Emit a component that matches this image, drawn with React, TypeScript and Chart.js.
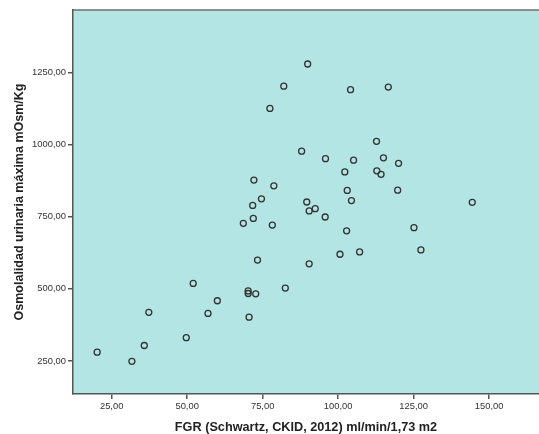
import React, { useEffect, useRef } from "react";
import { Chart, registerables } from "chart.js";

Chart.register(...registerables);

const FGR: number[] = [
  89.9, 82.0, 104.1, 116.6, 77.4, 112.7, 87.9, 95.8, 105.1, 115.0,
  120.0, 102.2, 112.8, 114.2, 72.1, 78.7, 103.0, 119.7, 74.6, 71.7,
  89.6, 90.4, 92.4, 104.4, 144.4, 95.7, 68.6, 71.9, 78.2, 102.8,
  125.1, 73.3, 90.4, 100.6, 107.1, 127.4, 82.5, 52.0, 70.2, 70.2,
  72.7, 60.0, 37.3, 56.9, 70.5, 49.7, 35.8, 20.2, 31.7,
];
const OSMOL: number[] = [
  1279, 1202, 1190, 1199, 1125, 1011, 977, 951, 946, 954,
  935, 905, 909, 897, 877, 857, 841, 842, 812, 789,
  801, 770, 778, 806, 800, 749, 727, 744, 721, 701,
  712, 600, 587, 620, 628, 635, 503, 519, 493, 484,
  483, 459, 419, 415, 402, 331, 304, 281, 249,
];
const X_TICKS: number[] = [25, 50, 75, 100, 125, 150];
const Y_TICKS: number[] = [250, 500, 750, 1000, 1250];
const X_TITLE = "FGR (Schwartz, CKID, 2012) ml/min/1,73 m2";
const Y_TITLE = "Osmolalidad urinaria máxima mOsm/Kg";

const fmt = (v: number) => v.toFixed(2).replace(".", ",");
const FONT = "'Liberation Sans', Arial, sans-serif";

const bgPlugin = {
  id: "plotBg",
  beforeDraw(chart: any) {
    const { ctx, chartArea } = chart;
    ctx.save();
    ctx.fillStyle = "#b3e5e5";
    ctx.fillRect(chartArea.left, chartArea.top, chartArea.right - chartArea.left, chartArea.bottom - chartArea.top);
    ctx.restore();
  },
  afterDraw(chart: any) {
    const { ctx, chartArea } = chart;
    ctx.save();
    ctx.strokeStyle = "#6e6e6e";
    ctx.lineWidth = 1.5;
    ctx.beginPath();
    ctx.moveTo(chartArea.left, chartArea.top);
    ctx.lineTo(chartArea.right, chartArea.top);
    ctx.stroke();
    ctx.restore();
  },
};

export default function App() {
  const ref = useRef<HTMLCanvasElement | null>(null);
  useEffect(() => {
    if (!ref.current) return;
    const chart = new Chart(ref.current, {
      type: "scatter",
      data: {
        datasets: [
          {
            data: FGR.map((x, i) => ({ x, y: OSMOL[i] })),
            pointStyle: "circle",
            pointRadius: 3,
            pointBorderWidth: 1.3,
            pointBorderColor: "#333",
            pointBackgroundColor: "rgba(0,0,0,0)",
          },
        ],
      },
      options: {
        animation: false,
        responsive: false,
        layout: { autoPadding: false, padding: { top: 10, right: 0, left: 0, bottom: 0 } },
        plugins: { legend: { display: false }, tooltip: { enabled: false } },
        scales: {
          x: {
            type: "linear",
            min: 12.2,
            max: 166.5,
            afterBuildTicks: (s: any) => {
              s.ticks = X_TICKS.map((v) => ({ value: v }));
            },
            afterFit: (s: any) => {
              s.height = 40;
            },
            grid: { display: true, drawOnChartArea: false, drawTicks: true, tickLength: 5, color: "#555", lineWidth: 1.5 },
            border: { display: true, color: "#555", width: 1.5 },
            ticks: {
              padding: 2,
              color: "#333",
              font: { family: FONT, size: 9.4 },
              callback: (v: any) => fmt(Number(v)),
              maxRotation: 0,
            },
            title: {
              display: true,
              text: X_TITLE,
              color: "#222",
              font: { family: FONT, size: 12.7, weight: "bold" },
              padding: { top: 0, bottom: -1.5 },
            },
          },
          y: {
            type: "linear",
            min: 136,
            max: 1466,
            afterBuildTicks: (s: any) => {
              s.ticks = Y_TICKS.map((v) => ({ value: v }));
            },
            afterFit: (s: any) => {
              s.width = 73;
            },
            grid: { display: true, drawOnChartArea: false, drawTicks: true, tickLength: 5, color: "#555", lineWidth: 1.5 },
            border: { display: true, color: "#555", width: 1.5 },
            ticks: {
              padding: 2,
              color: "#333",
              font: { family: FONT, size: 9.4 },
              callback: (v: any) => fmt(Number(v)),
            },
            title: {
              display: true,
              text: Y_TITLE,
              color: "#222",
              font: { family: FONT, size: 12.5, weight: "bold" },
              padding: { top: 12, bottom: 0 },
            },
          },
        },
      },
      plugins: [bgPlugin],
    } as any);
    return () => chart.destroy();
  }, []);
  return (
    <div style={{ position: "fixed", left: 0, top: 0, width: 539, height: 434, background: "#fff" }}>
      <canvas ref={ref} width={539} height={434} style={{ display: "block" }} />
    </div>
  );
}
